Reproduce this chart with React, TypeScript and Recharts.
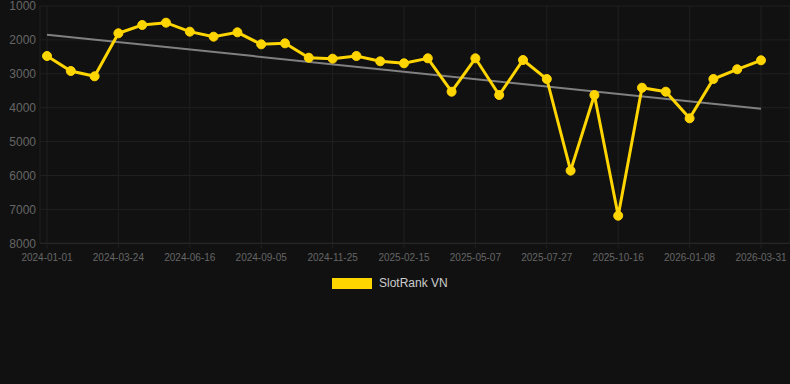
import {
  LineChart,
  Line,
  XAxis,
  YAxis,
  CartesianGrid,
} from "recharts";

const dates = [
  "2024-01-01", "2024-01-29", "2024-02-26", "2024-03-24", "2024-04-21",
  "2024-05-19", "2024-06-16", "2024-07-13", "2024-08-09", "2024-09-05",
  "2024-10-02", "2024-10-29", "2024-11-25", "2024-12-22", "2025-01-19",
  "2025-02-15", "2025-03-14", "2025-04-10", "2025-05-07", "2025-06-03",
  "2025-06-30", "2025-07-27", "2025-08-23", "2025-09-19", "2025-10-16",
  "2025-11-12", "2025-12-11", "2026-01-08", "2026-02-04", "2026-03-03",
  "2026-03-31",
];

const rankVN = [
  2475, 2917, 3074, 1805, 1560, 1492, 1757, 1905, 1777, 2131,
  2101, 2525, 2554, 2475, 2631, 2690, 2543, 3528, 2543, 3625,
  2593, 3153, 5857, 3625, 7186, 3410, 3528, 4313, 3153, 2867,
  2602,
];

// trend line: only the two ends, joined straight across
const trendEnds = [1846, 4030];

const xTicks = [
  "2024-01-01", "2024-03-24", "2024-06-16", "2024-09-05", "2024-11-25",
  "2025-02-15", "2025-05-07", "2025-07-27", "2025-10-16", "2026-01-08",
  "2026-03-31",
];

const yTicks = [1000, 2000, 3000, 4000, 5000, 6000, 7000, 8000];

const YELLOW = "#FFD500";
const BG = "#111111";
const GRID = "#202020";
const FONT = "'Liberation Sans', Arial, Helvetica, sans-serif";

const data = dates.map((d, i) => ({
  date: d,
  rank: rankVN[i],
  trend: i === 0 ? trendEnds[0] : i === dates.length - 1 ? trendEnds[1] : null,
}));

export default function App() {
  return (
    <div
      style={{
        position: "fixed",
        left: 0,
        top: 0,
        width: 790,
        height: 384,
        background: BG,
        fontFamily: FONT,
      }}
    >
      <LineChart
        width={790}
        height={300}
        data={data}
        margin={{ top: 6, right: 0, bottom: 0, left: 0 }}
      >
        <CartesianGrid stroke={GRID} strokeWidth={1} />
        <XAxis
          dataKey="date"
          ticks={xTicks}
          interval={0}
          height={56.7}
          padding={{ left: 7, right: 29 }}
          tick={{ fontSize: 10, fill: "#666666", fontFamily: FONT }}
          tickSize={5}
          tickMargin={6}
          axisLine={{ stroke: "#2a2a2a" }}
          tickLine={{ stroke: GRID }}
        />
        <YAxis
          reversed
          domain={[1000, 8000]}
          ticks={yTicks}
          interval={0}
          width={40}
          tick={{ fontSize: 12, fill: "#666666", fontFamily: FONT }}
          tickSize={2}
          tickMargin={2}
          axisLine={false}
          tickLine={false}
        />
        <Line
          dataKey="trend"
          stroke="#808080"
          strokeWidth={2}
          dot={false}
          connectNulls
          isAnimationActive={false}
        />
        <Line
          dataKey="rank"
          stroke={YELLOW}
          strokeWidth={3}
          dot={{ r: 4.5, fill: YELLOW, stroke: YELLOW, strokeWidth: 1 }}
          isAnimationActive={false}
        />
      </LineChart>
      <div
        style={{
          position: "absolute",
          top: 278,
          left: 332,
          display: "flex",
          alignItems: "center",
          gap: 7,
          fontSize: 12,
          lineHeight: "11px",
          color: "#cccccc",
        }}
      >
        <span
          style={{
            width: 40,
            height: 11,
            background: YELLOW,
            display: "inline-block",
          }}
        />
        <span>SlotRank VN</span>
      </div>
    </div>
  );
}
